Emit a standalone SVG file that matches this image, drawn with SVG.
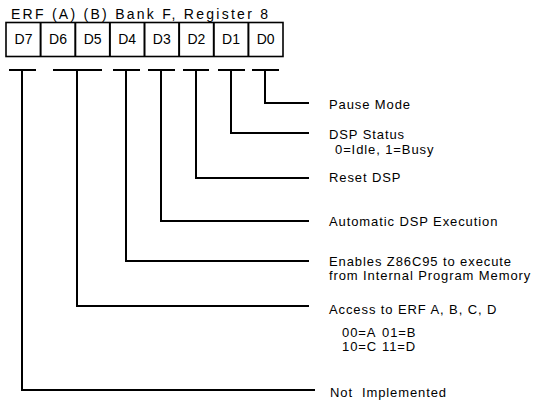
<svg xmlns="http://www.w3.org/2000/svg" width="544" height="400" viewBox="0 0 544 400">
<style>
text{font-family:"Liberation Sans",Arial,sans-serif;font-size:13px;letter-spacing:0.9px;fill:#000}
.cell{font-size:14px;letter-spacing:0;text-anchor:middle}
.ln{stroke:#000;stroke-width:2;fill:none}
</style>
<rect width="544" height="400" fill="#fff"/>
<text x="11" y="19" style="font-size:14px;letter-spacing:0" textLength="257" lengthAdjust="spacing">ERF (A) (B) Bank F, Register 8</text>
<g id="register">
<rect x="6" y="22.5" width="277" height="34" fill="#fff" stroke="#000" stroke-width="1.6"/>
<g stroke="#000" stroke-width="2">
<line x1="40.6" y1="22.5" x2="40.6" y2="56.5"/>
<line x1="75.3" y1="22.5" x2="75.3" y2="56.5"/>
<line x1="109.9" y1="22.5" x2="109.9" y2="56.5"/>
<line x1="144.5" y1="22.5" x2="144.5" y2="56.5"/>
<line x1="179.1" y1="22.5" x2="179.1" y2="56.5"/>
<line x1="213.8" y1="22.5" x2="213.8" y2="56.5"/>
<line x1="248.4" y1="22.5" x2="248.4" y2="56.5"/>
</g>
<text class="cell" x="23.5" y="44">D7</text>
<text class="cell" x="58" y="44">D6</text>
<text class="cell" x="92.6" y="44">D5</text>
<text class="cell" x="127.2" y="44">D4</text>
<text class="cell" x="161.8" y="44">D3</text>
<text class="cell" x="196.4" y="44">D2</text>
<text class="cell" x="231" y="44">D1</text>
<text class="cell" x="265.7" y="44">D0</text>
</g>
<g id="connectors" class="ln">
<path class="ln" d="M9 70H36M22 70V390H315"/>
<path class="ln" d="M53 70H102M77 70V306H309"/>
<path class="ln" d="M113 70H140M126 70V261H309"/>
<path class="ln" d="M148 70H175M161 70V221H309"/>
<path class="ln" d="M183 70H209M196 70V178H309"/>
<path class="ln" d="M218 70H245M231 70V133H309"/>
<path class="ln" d="M252 70H279M265 70V103H309"/>
</g>
<g id="d0"><text x="329" y="109">Pause Mode</text></g>
<g id="d1"><text x="329" y="139">DSP Status</text><text x="335" y="153.5">0=Idle, 1=Busy</text></g>
<g id="d2"><text x="329" y="182">Reset DSP</text></g>
<g id="d3"><text x="329" y="226">Automatic DSP Execution</text></g>
<g id="d4"><text x="329" y="265.5">Enables Z86C95 to execute</text><text x="329" y="280">from Internal Program Memory</text></g>
<g id="d6d5"><text x="329" y="314">Access to ERF A, B, C, D</text>
<text x="342" y="336.5">00=A</text><text x="382" y="336.5">01=B</text>
<text x="342" y="351">10=C</text><text x="382" y="351">11=D</text></g>
<g id="d7"><text x="330" y="397" xml:space="preserve">Not  Implemented</text></g>
</svg>
